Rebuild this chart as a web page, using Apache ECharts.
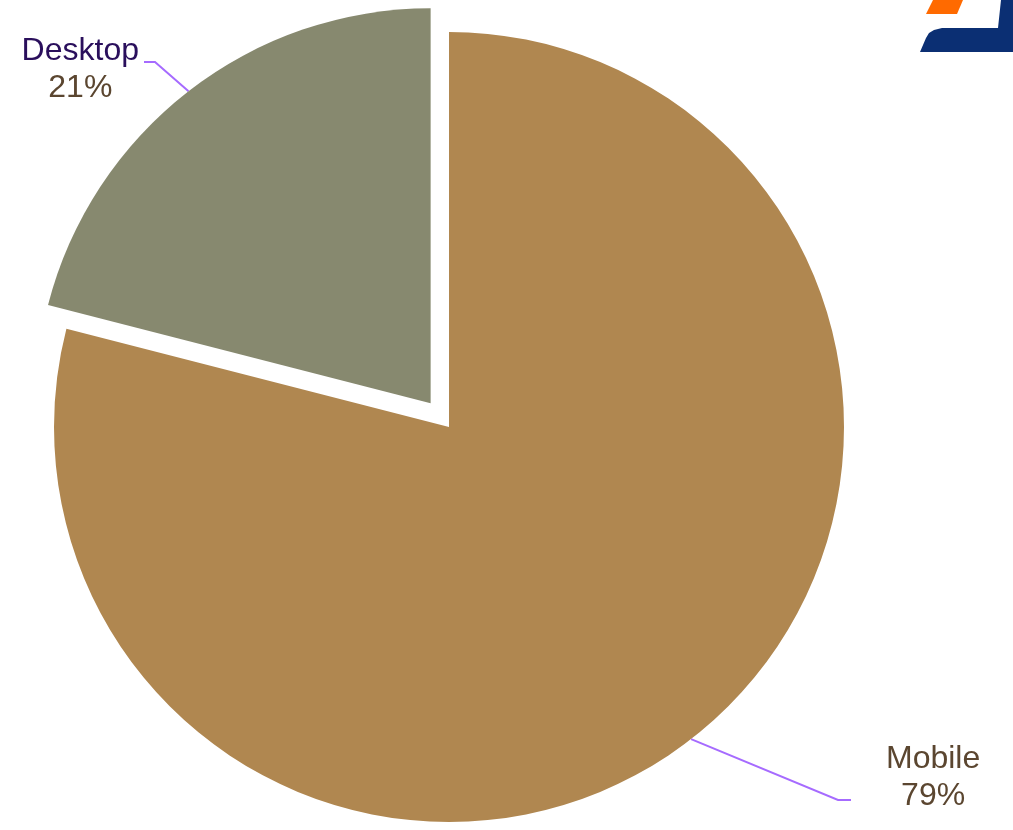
<!DOCTYPE html>
<html>
<head>
<meta charset="utf-8">
<script src="https://cdn.jsdelivr.net/npm/echarts@6/dist/echarts.min.js"></script>
<style>
  html, body { margin: 0; padding: 0; background: #fff; }
  #chart { width: 1013px; height: 830px; }
</style>
</head>
<body>
<div id="chart"></div>
<script>
const categories = ['Mobile', 'Desktop'];
const shares = [79, 21];
const sliceColors = ['#b08750', '#87896f'];
const nameColors = ['#5b4630', '#2a0f5c'];

// where each outside label sits: leader-line elbow, line end, text anchor
const labelSpots = {
    Mobile:  { elbow: [838, 800], end: [851, 800], text: [886, 778], align: 'left' },
    Desktop: { elbow: [155, 62],  end: [144, 62],  text: [139, 70],  align: 'right' }
};

const pieCenter = [449, 427];
const pieRadius = 395;
const pullOut = 30; // Desktop slice is pulled out of the pie

const chart = echarts.init(document.getElementById('chart'));

// mid angle of a slice, pie starts at 12 o'clock and runs clockwise
function midAngle(index) {
    const total = shares.reduce((a, b) => a + b, 0);
    let before = 0;
    for (let i = 0; i < index; i++) before += shares[i];
    const mid = (before + shares[index] / 2) / total * 360;
    return (90 - mid) * Math.PI / 180;
}

function pieFor(index, center) {
    const name = categories[index];
    return {
        type: 'pie',
        center: center,
        radius: pieRadius,
        startAngle: 90,
        clockwise: true,
        silent: true,
        avoidLabelOverlap: false,
        emphasis: { disabled: true },
        label: {
            show: true,
            position: 'outside',
            fontFamily: 'Liberation Sans, Arial, sans-serif',
            fontSize: 32,
            lineHeight: 37,
            formatter: '{name|{b}}\n{pct|{d}%}',
            rich: {
                name: { fontSize: 32, lineHeight: 37, align: 'center', color: nameColors[index] },
                pct: { fontSize: 32, lineHeight: 37, align: 'center', color: '#5b4630' }
            }
        },
        labelLine: {
            show: true,
            length: 40,
            length2: 13,
            lineStyle: { color: '#a66bff', width: 2 }
        },
        labelLayout: function (params) {
            const spot = labelSpots[categories[params.dataIndex]];
            if (!spot || params.dataIndex !== index) return {};
            const start = params.labelLinePoints ? params.labelLinePoints[0] : spot.elbow;
            return {
                x: spot.text[0],
                y: spot.text[1],
                align: spot.align,
                verticalAlign: 'middle',
                labelLinePoints: [start, spot.elbow, spot.end]
            };
        },
        data: categories.map((n, i) => (i === index
            ? { name: n, value: shares[i], itemStyle: { color: sliceColors[i] } }
            : {
                name: n, value: shares[i],
                itemStyle: { color: 'rgba(0,0,0,0)' },
                label: { show: false },
                labelLine: { show: false }
            }))
    };
}

const a = midAngle(1);
const desktopCenter = [pieCenter[0] + Math.cos(a) * pullOut, pieCenter[1] - Math.sin(a) * pullOut];

const option = {
    animation: false,
    graphic: [
        {
            type: 'polygon',
            shape: { points: [[933, 0], [963, 0], [957, 14], [926, 14]] },
            style: { fill: '#ff6a00' }
        },
        {
            type: 'polygon',
            shape: {
                points: [[920, 52], [926, 38], [929, 33], [934, 30], [942, 28], [998, 28],
                         [1001, 0], [1013, 0], [1013, 52]]
            },
            style: { fill: '#0b2f73' }
        }
    ],
    series: [
        pieFor(0, pieCenter),
        pieFor(1, desktopCenter)
    ]
};

chart.setOption(option);
</script>
</body>
</html>
